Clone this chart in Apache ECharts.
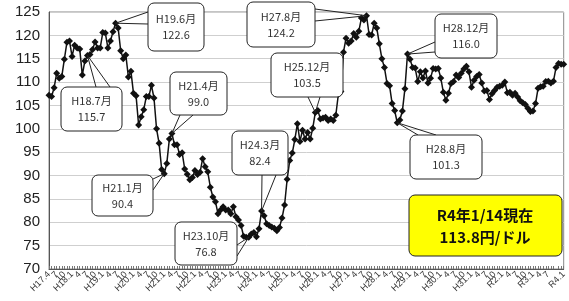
<!DOCTYPE html>
<html>
<head>
<meta charset="utf-8">
<script src="https://cdn.jsdelivr.net/npm/echarts@6/dist/echarts.min.js"></script>
<style>
  html, body { margin: 0; padding: 0; background: #fff; }
  #chart { width: 569px; height: 301px; }
</style>
</head>
<body>
<div id="chart"></div>
<script>
// 年ラベル（和暦）
const yearLabels = ['H17', 'H18', 'H19', 'H20', 'H21', 'H22', 'H23', 'H24', 'H25',
  'H26', 'H27', 'H28', 'H29', 'H30', 'H31', 'R2', 'R3', 'R4'];
const firstMonth = 4; // H17.4 から

// 月平均レート（円/ドル）
const v2005 = [107.2, 106.9, 108.8, 111.9, 110.8, 111.2, 114.9, 118.5, 118.8];
const v2006 = [115.5, 117.9, 117.3, 117.1, 111.5, 114.5, 115.7, 115.9, 117.0, 118.6, 117.3, 117.3];
const v2007 = [120.6, 120.5, 117.3, 118.8, 120.8, 122.6, 121.6, 116.7, 115.0, 115.8, 111.1, 112.3];
const v2008 = [107.6, 107.1, 100.8, 102.6, 104.1, 106.9, 106.9, 109.3, 106.6, 100.0, 96.9, 91.3];
const v2009 = [90.4, 92.6, 97.8, 99.0, 96.6, 96.6, 94.5, 94.9, 91.4, 90.3, 89.1, 89.6];
const v2010 = [91.1, 90.2, 90.7, 93.6, 91.9, 90.8, 87.5, 85.4, 84.4, 81.8, 82.6, 83.3];
const v2011 = [82.6, 82.6, 81.8, 83.3, 81.2, 80.5, 79.3, 77.0, 76.8, 76.8, 77.5, 77.8];
const v2012 = [76.9, 78.6, 82.4, 81.4, 79.7, 79.3, 79.0, 78.7, 78.2, 78.9, 80.9, 83.7];
const v2013 = [89.2, 93.2, 94.8, 97.7, 101.1, 97.3, 99.7, 97.8, 99.2, 97.8, 100.1, 103.5];
const v2014 = [103.9, 102.1, 102.3, 102.5, 101.8, 102.1, 101.8, 102.9, 107.4, 108.0, 116.4, 119.4];
const v2015 = [118.3, 118.8, 120.4, 119.6, 120.9, 123.7, 123.3, 124.2, 120.2, 120.1, 122.6, 121.6];
const v2016 = [118.2, 115.0, 113.1, 109.7, 109.2, 105.4, 103.9, 101.3, 101.9, 103.8, 108.6, 116.0];
const v2017 = [114.9, 113.1, 113.0, 110.1, 112.2, 110.9, 112.4, 109.8, 110.8, 112.9, 112.8, 112.9];
const v2018 = [110.9, 107.8, 106.1, 107.6, 109.7, 110.1, 111.5, 111.0, 111.9, 112.8, 113.4, 112.2];
const v2019 = [108.9, 110.4, 111.2, 111.6, 109.8, 108.1, 108.2, 106.3, 107.5, 108.2, 108.9, 109.1];
const v2020 = [109.3, 110.0, 107.7, 107.8, 107.2, 107.6, 106.8, 106.0, 105.6, 105.2, 104.4, 103.7];
const v2021 = [103.8, 105.4, 108.7, 109.0, 109.1, 110.1, 110.2, 109.8, 110.2, 113.1, 114.0, 113.8];
const v2022 = [113.8];
const yearValues = [v2005, v2006, v2007, v2008, v2009, v2010, v2011, v2012, v2013,
  v2014, v2015, v2016, v2017, v2018, v2019, v2020, v2021, v2022];

// 吹き出しの対象月
const calloutMonths = ['H18.7', 'H19.6', 'H21.1', 'H21.4', 'H23.10', 'H24.3', 'H25.12', 'H27.8', 'H28.8', 'H28.12'];
const noteLines = ['R4年1/14現在', '113.8円/ドル'];

const categories = [];
const rates = [];
yearValues.forEach((vals, y) => {
  vals.forEach((v, i) => {
    const m = (y === 0 ? firstMonth : 1) + i;
    categories.push(yearLabels[y] + '.' + m);
    rates.push(v);
  });
});

const chart = echarts.init(document.getElementById('chart'));
chart.setOption({
  animation: false,
  grid: { left: 49, right: 5, top: 12, bottom: 32, show: true, borderColor: '#888', borderWidth: 1 },
  xAxis: {
    type: 'category',
    data: categories,
    boundaryGap: false,
    axisLine: { lineStyle: { color: '#555' } },
    axisTick: { show: true, inside: true, interval: 0, length: 3, lineStyle: { color: '#777' } },
    axisLabel: {
      interval: 2,
      rotate: 45,
      fontSize: 9,
      color: '#333',
      margin: 4,
      showMaxLabel: true,
      hideOverlap: false,
      fontFamily: 'Liberation Sans',
      formatter: (val, idx) => {
        const m = val.split('.')[1];
        return (m === '1' || idx === 0) ? val : m;
      }
    },
    splitLine: { show: false }
  },
  yAxis: {
    type: 'value',
    min: 70,
    max: 125,
    interval: 5,
    axisLine: { show: true, lineStyle: { color: '#555' } },
    axisTick: { show: false },
    axisLabel: { fontSize: 15, color: '#222', margin: 9, fontFamily: 'Liberation Sans' },
    splitLine: { lineStyle: { color: '#cfcfcf', width: 1 } }
  },
  series: [{
    type: 'line',
    data: rates,
    symbol: 'diamond',
    symbolSize: 7,
    showAllSymbol: true,
    lineStyle: { color: '#111', width: 1.5 },
    itemStyle: { color: '#111' }
  }]
});

// 吹き出しの配置（ボックス位置と尻尾の付け根）
const boxLayout = {
  'H18.7': { box: [61, 87, 61, 44], base: [[96, 87], [110, 87]] },
  'H19.6': { box: [148, 3, 56, 48], base: [[148, 12], [148, 24]] },
  'H21.1': { box: [92, 175, 61, 41], base: [[153, 179], [153, 190]] },
  'H21.4': { box: [170, 72, 57, 43], base: [[180, 115], [193, 115]] },
  'H23.10': { box: [175, 222, 62, 43], base: [[237, 245], [237, 256]] },
  'H24.3': { box: [232, 131, 56, 44], base: [[262, 175], [276, 175]] },
  'H25.12': { box: [271, 53, 72, 44], base: [[308, 97], [320, 97]] },
  'H27.8': { box: [247, 2, 68, 45], base: [[315, 9], [315, 21]] },
  'H28.8': { box: [410, 135, 72, 44], base: [[418, 135], [436, 135]] },
  'H28.12': { box: [435, 14, 62, 44], base: [[435, 42], [435, 52]] }
};

const graphics = [];
calloutMonths.forEach((cat) => {
  const idx = categories.indexOf(cat);
  const tip = chart.convertToPixel({ seriesIndex: 0 }, [idx, rates[idx]]);
  const L = boxLayout[cat];
  const [bx, by, bw, bh] = L.box;
  graphics.push({
    type: 'polyline', z: 100,
    shape: { points: [L.base[0], tip, L.base[1]] },
    style: { stroke: '#222', lineWidth: 1, fill: null }
  });
  graphics.push({
    type: 'rect', z: 101,
    shape: { x: bx, y: by, width: bw, height: bh, r: 6 },
    style: { fill: '#fff', stroke: '#222', lineWidth: 1 }
  });
  graphics.push({
    type: 'text', z: 102,
    x: bx + bw / 2, y: by + bh / 2,
    style: {
      text: cat + '月\n' + rates[idx].toFixed(1),
      fontSize: 11, lineHeight: 16, fill: '#333',
      fontFamily: 'Noto Sans CJK JP',
      align: 'center', verticalAlign: 'middle'
    }
  });
});

// 現在値の注記
graphics.push({
  type: 'rect', z: 101,
  shape: { x: 409, y: 195, width: 153, height: 61, r: 6 },
  style: { fill: '#ffff00', stroke: '#222', lineWidth: 1 }
});
graphics.push({
  type: 'text', z: 102,
  x: 485, y: 226,
  style: {
    text: noteLines.join('\n'),
    fontSize: 15, lineHeight: 22, fontWeight: 'bold', fill: '#111',
    fontFamily: 'Noto Sans CJK JP',
    align: 'center', verticalAlign: 'middle'
  }
});

chart.setOption({ graphic: graphics });
</script>
</body>
</html>
